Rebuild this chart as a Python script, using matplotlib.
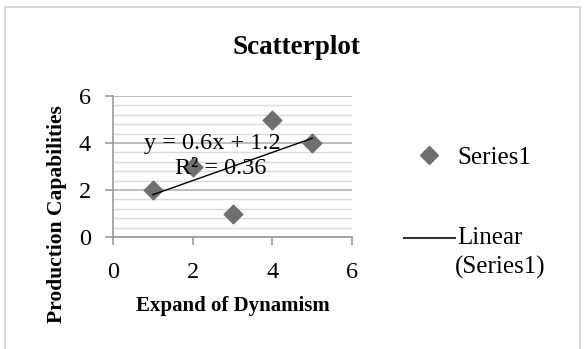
import numpy as np
import matplotlib; matplotlib.use("Agg"); import matplotlib.pyplot as plt
from matplotlib.patches import Rectangle
from matplotlib.lines import Line2D
from matplotlib.ticker import MultipleLocator

x_vals = [1, 2, 3, 4, 5]
y_vals = [2, 3, 1, 5, 4]
x_ticks = [0, 2, 4, 6]
y_ticks = [0, 2, 4, 6]

plt.rcParams['font.family'] = ['Liberation Serif', 'DejaVu Serif']

fig = plt.figure(figsize=(5.85, 3.49), dpi=100)
fig.patches.append(Rectangle((5/585, -0.1), 575/585, 1.1 - 7/349, transform=fig.transFigure,
                             fill=False, edgecolor="#d0d0d0", linewidth=1.2))
ax = fig.add_axes([113/585, 1 - 237/349, 239/585, 141/349])

# linear fit
slope, intercept = np.polyfit(x_vals, y_vals, 1)
pred = slope * np.array(x_vals) + intercept
r2 = 1 - np.sum((np.array(y_vals) - pred)**2) / np.sum((np.array(y_vals) - np.mean(y_vals))**2)

ax.yaxis.set_minor_locator(MultipleLocator(0.4))
ax.grid(True, which="major", axis="y", color="#bdbdbd", linewidth=1.4)
ax.grid(True, which="minor", axis="y", color="#d9d9d9", linewidth=1.0)
ax.set_axisbelow(True)

ax.scatter(x_vals, y_vals, marker="D", s=90, color="#6f6f6f", zorder=3)
xs = np.array([min(x_vals), max(x_vals)])
ax.plot(xs, slope * xs + intercept, color="black", linewidth=1.0, zorder=4)
ax.text(2.5, 4.0, f"y = {slope:.1f}x + {intercept:.1f}", ha="center", va="center", fontsize=17.5, zorder=5)
ax.text(2.7, 2.9, f"R² = {r2:.2f}", ha="center", va="center", fontsize=17.5, zorder=5)

ax.set_xlim(0, 6); ax.set_ylim(0, 6)
ax.set_xticks(x_ticks); ax.set_yticks(y_ticks)
ax.tick_params(axis="both", which="major", labelsize=17.5, length=6, color="#9a9a9a", width=1.2)
ax.tick_params(axis="y", which="minor", length=0)
ax.tick_params(axis="x", pad=12)
ax.tick_params(axis="y", pad=10)
for s in ["top", "right"]:
    ax.spines[s].set_visible(False)
for s in ["left", "bottom"]:
    ax.spines[s].set_color("#9a9a9a"); ax.spines[s].set_linewidth(1.2)

fig.text(296/585, 1 - 48/349, "Scatterplot", ha="center", va="center", fontsize=19.5, fontweight="bold")
fig.text(233/585, 1 - 306/349, "Expand of Dynamism", ha="center", va="center", fontsize=15, fontweight="bold")
fig.text(57/585, 1 - 214/349, "Production Capabilities", ha="center", va="center", rotation=90,
         fontsize=15.5, fontweight="bold")

# legend
fig.add_artist(Line2D([429/585], [1 - 155/349], marker="D", markersize=9, color="#6f6f6f", linestyle="none"))
fig.text(457/585, 1 - 158/349, "Series1", ha="left", va="center", fontsize=18)
fig.add_artist(Line2D([404/585, 455/585], [1 - 238/349, 1 - 238/349], color="#333333", linewidth=1.5))
fig.text(457/585, 1 - 238/349, "Linear", ha="left", va="center", fontsize=18)
fig.text(455/585, 1 - 267/349, "(Series1)", ha="left", va="center", fontsize=18)

fig.savefig("out.png", dpi=100)
